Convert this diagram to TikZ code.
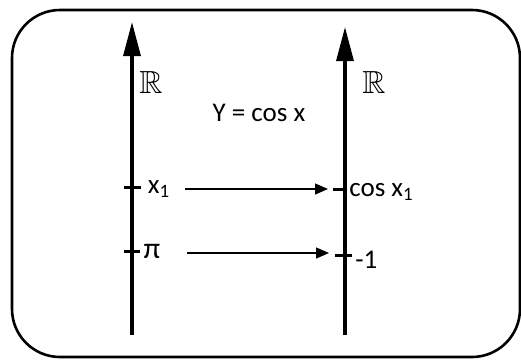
\documentclass[tikz,border=0pt]{standalone}
\usepackage{amssymb}
\usepackage{fontspec}
\setmainfont{Carlito}
\usetikzlibrary{arrows.meta,positioning}

\begin{document}
\begin{tikzpicture}[x=0.5pt,y=-0.5pt,
  axis/.style={line width=1.6pt,-{Triangle[length=17pt,width=8.5pt]}},
  map/.style={line width=0.7pt,-{Triangle[length=6.5pt,width=5.5pt]}},
  tickmark/.style={line width=1.5pt},
  every node/.style={font=\fontsize{13.5}{16}\selectfont,inner sep=1pt}]
\useasboundingbox (0,0) rectangle (521,360);
\draw[line width=1.3pt,rounded corners=24pt] (12,10) rectangle (520,357);
% the two real lines
\coordinate (lb) at (132,335); \coordinate (lt) at (132,22);
\coordinate (rb) at (345,335); \coordinate (rt) at (345,27);
\draw[axis] (lb) -- (lt); \draw[axis] (rb) -- (rt);
\node[font=\fontsize{16}{18}\selectfont] (rl) at (151,82) {$\mathbb{R}$};
\node[font=\fontsize{16}{18}\selectfont] (rr) at (374,82) {$\mathbb{R}$};
\node (fn) at (259,113) {Y = cos x};
% ticks
\coordinate (ta) at (132,187); \coordinate (tb) at (132,251);
\coordinate (tc) at (345,189); \coordinate (td) at (345,255);
\draw[tickmark] ([xshift=-4pt]ta) -- ([xshift=4.5pt]ta);
\draw[tickmark] ([xshift=-4pt]tb) -- ([xshift=4pt]tb);
\draw[tickmark] ([xshift=-6pt]tc) -- ([xshift=1pt]tc);
\draw[tickmark] ([xshift=-5pt]td) -- ([xshift=3.5pt]td);
\node (xa) at (159,189) {x\textsubscript{1}};
\node[font=\fontsize{15}{18}\selectfont] (pi) at (152,251) {π};
\node[anchor=west,inner sep=0pt] (ya) at (349,192) {cos x\textsubscript{1}};
\node[anchor=west,inner sep=0pt] (yb) at (355,260) {-1};
% arrows
\coordinate (sa) at (185,189); \coordinate (ea) at (328,189);
\coordinate (sb) at (187,253); \coordinate (eb) at (329,253);
\draw[map] (sa) -- (ea); \draw[map] (sb) -- (eb);
\end{tikzpicture}
\end{document}
